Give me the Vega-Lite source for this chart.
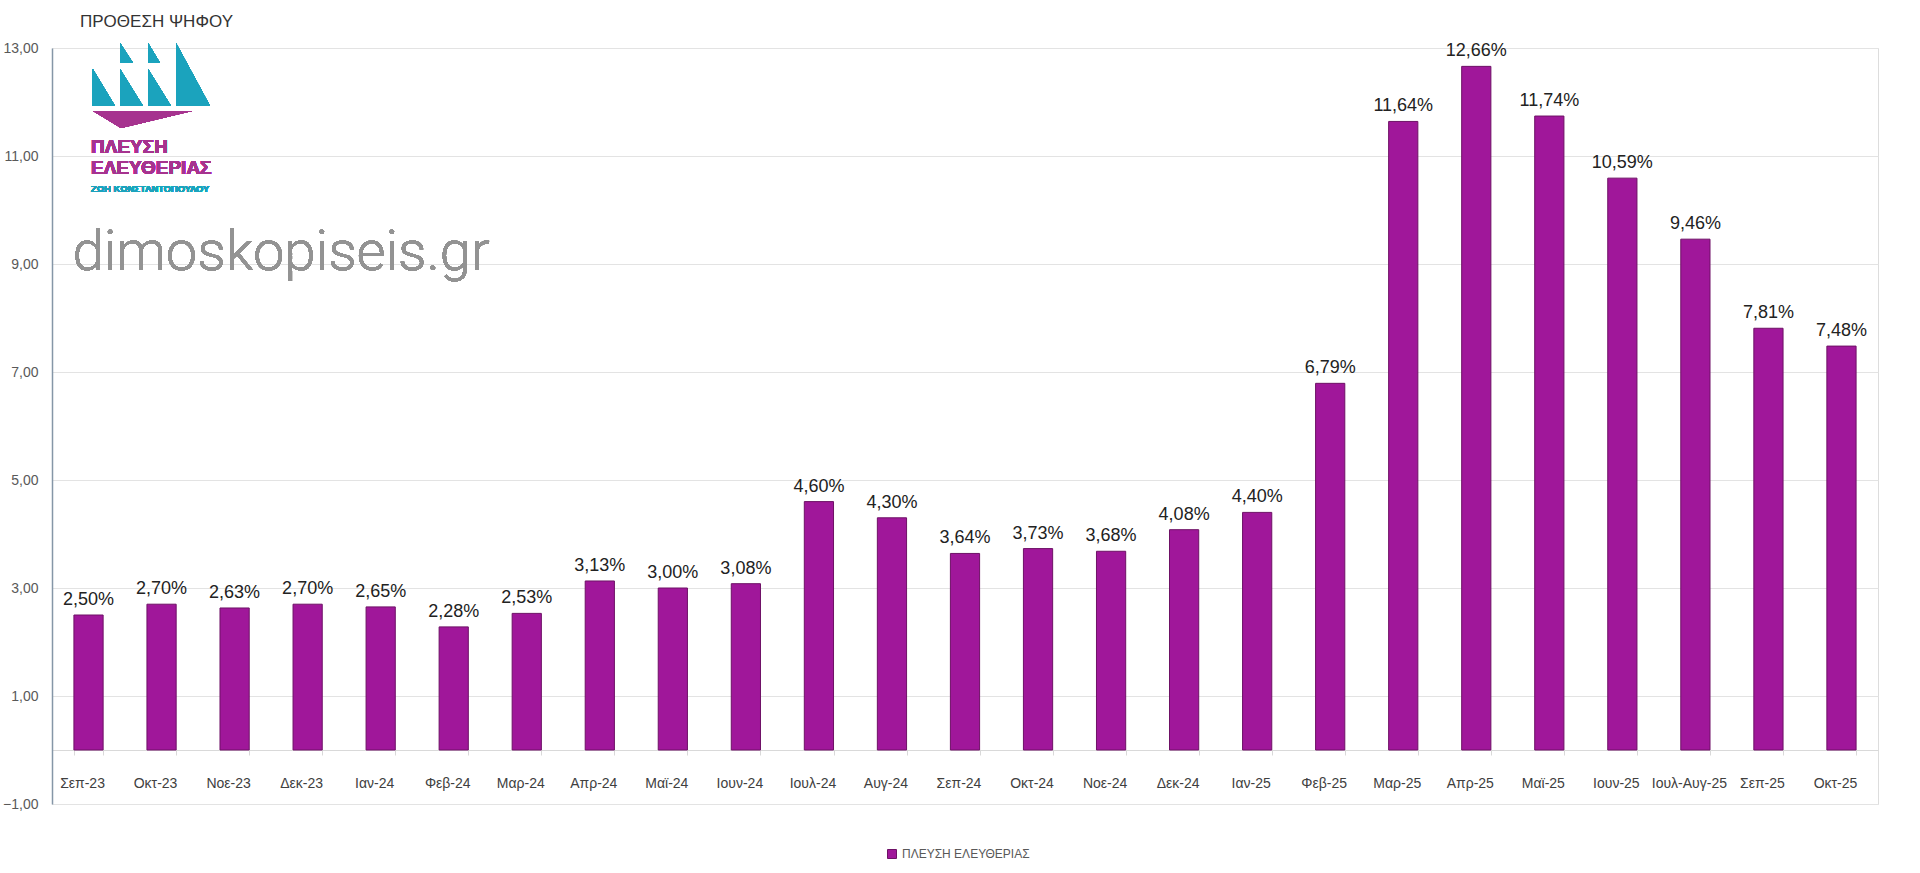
{
  "$schema": "https://vega.github.io/schema/vega-lite/v6.json",
  "width": 1826,
  "height": 756,
  "autosize": {"type": "none"},
  "padding": {"left": 52, "top": 48, "right": 42, "bottom": 69},
  "background": "white",
  "title": {"text": "ΠΡΟΘΕΣΗ ΨΗΦΟΥ", "anchor": "start", "frame": "group", "fontSize": 17, "fontWeight": "normal", "color": "#333333", "font": "Liberation Sans", "dx": 28, "offset": 10},
  "config": {
    "axisY": {"title": null, "grid": true, "gridColor": "#e3e3e3", "domain": true, "domainColor": "#8596a7", "domainWidth": 1.5, "ticks": false, "labelFontSize": 14, "labelColor": "#595959", "labelFont": "Liberation Sans", "labelPadding": 14}
  },
  "data": {"values": [
    {"month": "Σεπ-23", "value": 2.50, "label": "2,50%", "series": "ΠΛΕΥΣΗ ΕΛΕΥΘΕΡΙΑΣ"},
    {"month": "Οκτ-23", "value": 2.70, "label": "2,70%", "series": "ΠΛΕΥΣΗ ΕΛΕΥΘΕΡΙΑΣ"},
    {"month": "Νοε-23", "value": 2.63, "label": "2,63%", "series": "ΠΛΕΥΣΗ ΕΛΕΥΘΕΡΙΑΣ"},
    {"month": "Δεκ-23", "value": 2.70, "label": "2,70%", "series": "ΠΛΕΥΣΗ ΕΛΕΥΘΕΡΙΑΣ"},
    {"month": "Ιαν-24", "value": 2.65, "label": "2,65%", "series": "ΠΛΕΥΣΗ ΕΛΕΥΘΕΡΙΑΣ"},
    {"month": "Φεβ-24", "value": 2.28, "label": "2,28%", "series": "ΠΛΕΥΣΗ ΕΛΕΥΘΕΡΙΑΣ"},
    {"month": "Μαρ-24", "value": 2.53, "label": "2,53%", "series": "ΠΛΕΥΣΗ ΕΛΕΥΘΕΡΙΑΣ"},
    {"month": "Απρ-24", "value": 3.13, "label": "3,13%", "series": "ΠΛΕΥΣΗ ΕΛΕΥΘΕΡΙΑΣ"},
    {"month": "Μαϊ-24", "value": 3.00, "label": "3,00%", "series": "ΠΛΕΥΣΗ ΕΛΕΥΘΕΡΙΑΣ"},
    {"month": "Ιουν-24", "value": 3.08, "label": "3,08%", "series": "ΠΛΕΥΣΗ ΕΛΕΥΘΕΡΙΑΣ"},
    {"month": "Ιουλ-24", "value": 4.60, "label": "4,60%", "series": "ΠΛΕΥΣΗ ΕΛΕΥΘΕΡΙΑΣ"},
    {"month": "Αυγ-24", "value": 4.30, "label": "4,30%", "series": "ΠΛΕΥΣΗ ΕΛΕΥΘΕΡΙΑΣ"},
    {"month": "Σεπ-24", "value": 3.64, "label": "3,64%", "series": "ΠΛΕΥΣΗ ΕΛΕΥΘΕΡΙΑΣ"},
    {"month": "Οκτ-24", "value": 3.73, "label": "3,73%", "series": "ΠΛΕΥΣΗ ΕΛΕΥΘΕΡΙΑΣ"},
    {"month": "Νοε-24", "value": 3.68, "label": "3,68%", "series": "ΠΛΕΥΣΗ ΕΛΕΥΘΕΡΙΑΣ"},
    {"month": "Δεκ-24", "value": 4.08, "label": "4,08%", "series": "ΠΛΕΥΣΗ ΕΛΕΥΘΕΡΙΑΣ"},
    {"month": "Ιαν-25", "value": 4.40, "label": "4,40%", "series": "ΠΛΕΥΣΗ ΕΛΕΥΘΕΡΙΑΣ"},
    {"month": "Φεβ-25", "value": 6.79, "label": "6,79%", "series": "ΠΛΕΥΣΗ ΕΛΕΥΘΕΡΙΑΣ"},
    {"month": "Μαρ-25", "value": 11.64, "label": "11,64%", "series": "ΠΛΕΥΣΗ ΕΛΕΥΘΕΡΙΑΣ"},
    {"month": "Απρ-25", "value": 12.66, "label": "12,66%", "series": "ΠΛΕΥΣΗ ΕΛΕΥΘΕΡΙΑΣ"},
    {"month": "Μαϊ-25", "value": 11.74, "label": "11,74%", "series": "ΠΛΕΥΣΗ ΕΛΕΥΘΕΡΙΑΣ"},
    {"month": "Ιουν-25", "value": 10.59, "label": "10,59%", "series": "ΠΛΕΥΣΗ ΕΛΕΥΘΕΡΙΑΣ"},
    {"month": "Ιουλ-Αυγ-25", "value": 9.46, "label": "9,46%", "series": "ΠΛΕΥΣΗ ΕΛΕΥΘΕΡΙΑΣ"},
    {"month": "Σεπ-25", "value": 7.81, "label": "7,81%", "series": "ΠΛΕΥΣΗ ΕΛΕΥΘΕΡΙΑΣ"},
    {"month": "Οκτ-25", "value": 7.48, "label": "7,48%", "series": "ΠΛΕΥΣΗ ΕΛΕΥΘΕΡΙΑΣ"}
  ]},
  "layer": [
    {
      "mark": {"type": "bar", "stroke": "#6e1166", "strokeWidth": 1},
      "encoding": {
        "x": {"field": "month", "type": "nominal", "sort": null,
          "scale": {"paddingInner": 0.6, "paddingOuter": 0.3},
          "axis": {"title": null, "orient": "bottom", "offset": -54, "labels": false, "tickBand": "extent", "tickColor": "#d9d9d9", "tickSize": 5, "domainColor": "#d9d9d9", "domainWidth": 1, "grid": false}},
        "y": {"field": "value", "type": "quantitative",
          "scale": {"domain": [-1, 13], "nice": false, "zero": false},
          "axis": {"title": null, "values": [-1, 1, 3, 5, 7, 9, 11, 13], "labelExpr": "replace(format(datum.value, '.2f'), '.', ',')"}},
        "color": {"field": "series", "type": "nominal", "scale": {"range": ["#A0179A"]},
          "legend": {"title": null, "orient": "none", "legendX": 834, "legendY": 800, "direction": "horizontal", "labelFontSize": 12, "labelColor": "#595959", "labelFont": "Liberation Sans", "symbolType": "square", "symbolSize": 81, "symbolStrokeColor": "#6e1166", "symbolStrokeWidth": 1, "symbolOpacity": 1}}
      }
    },
    {
      "mark": {"type": "text", "baseline": "alphabetic", "align": "center", "dy": -10, "font": "Liberation Sans", "fontSize": 18, "color": "#222222"},
      "encoding": {
        "x": {"field": "month", "type": "nominal", "sort": null},
        "y": {"field": "value", "type": "quantitative"},
        "text": {"field": "label"}
      }
    },
    {
      "mark": {"type": "text", "align": "center", "baseline": "middle", "xOffset": -6, "yOffset": 34, "font": "Liberation Sans", "fontSize": 14, "color": "#404040"},
      "encoding": {
        "x": {"field": "month", "type": "nominal", "sort": null},
        "y": {"datum": 0, "type": "quantitative"},
        "text": {"field": "month"}
      }
    },
    {
      "mark": {"type": "text", "align": "left", "baseline": "alphabetic", "font": "Roboto", "fontWeight": 300, "fontSize": 56, "color": "#939393", "dx": -16},
      "encoding": {"x": {"datum": "Σεπ-23", "type": "nominal"}, "y": {"datum": 8.889, "type": "quantitative"}, "text": {"value": "dimoskopiseis.gr"}}
    },
    {
      "mark": {"type": "point", "filled": true, "opacity": 1, "size": 14400, "xOffset": -10, "color": "#1BA3BD", "strokeWidth": 0,
        "shape": "M-0.98,-0.275L-0.98,0.342L-0.608,0.342ZM-0.525,-0.275L-0.525,0.342L-0.142,0.342ZM-0.525,-0.708L-0.525,-0.375L-0.308,-0.375ZM-0.058,-0.275L-0.058,0.342L0.325,0.342ZM-0.058,-0.708L-0.058,-0.375L0.142,-0.375ZM0.408,-0.708L0.408,0.342L0.975,0.342Z"},
      "encoding": {"x": {"datum": "Οκτ-23", "type": "nominal"}, "y": {"datum": 12.306, "type": "quantitative"}}
    },
    {
      "mark": {"type": "point", "filled": true, "opacity": 1, "size": 14400, "xOffset": -10, "color": "#A6338F", "strokeWidth": 0,
        "shape": "M-0.975,0.425L0.675,0.425L-0.508,0.708Z"},
      "encoding": {"x": {"datum": "Οκτ-23", "type": "nominal"}, "y": {"datum": 12.306, "type": "quantitative"}}
    },
    {
      "mark": {"type": "text", "align": "left", "baseline": "alphabetic", "font": "Liberation Sans", "fontWeight": "bold", "fontSize": 19, "color": "#A6338F", "dx": 2.5},
      "encoding": {"x": {"datum": "Σεπ-23", "type": "nominal"}, "y": {"datum": 11.056, "type": "quantitative"}, "text": {"value": "ΠΛΕΥΣΗ"}}
    },
    {
      "mark": {"type": "text", "align": "left", "baseline": "alphabetic", "font": "Liberation Sans", "fontWeight": "bold", "fontSize": 19, "color": "#A6338F", "dx": 2.5},
      "encoding": {"x": {"datum": "Σεπ-23", "type": "nominal"}, "y": {"datum": 10.667, "type": "quantitative"}, "text": {"value": "ΕΛΕΥΘΕΡΙΑΣ"}}
    },
    {
      "mark": {"type": "text", "align": "left", "baseline": "alphabetic", "font": "Liberation Sans", "fontWeight": "bold", "fontSize": 9.3, "color": "#1BA3BD", "dx": 2.5},
      "encoding": {"x": {"datum": "Σεπ-23", "type": "nominal"}, "y": {"datum": 10.333, "type": "quantitative"}, "text": {"value": "ΖΩΗ ΚΩΝΣΤΑΝΤΟΠΟΥΛΟΥ"}}
    }
  ]
}
